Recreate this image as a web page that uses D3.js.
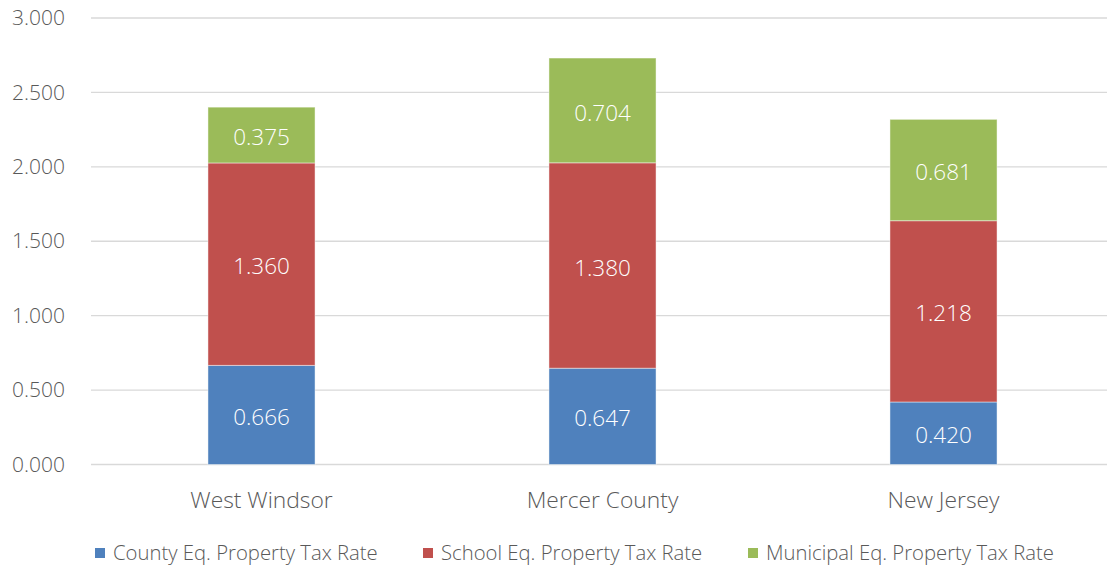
<!DOCTYPE html>
<html>
<head>
<meta charset="utf-8">
<script src="https://cdn.jsdelivr.net/npm/d3@7"></script>
<style>
  body { margin: 0; background: #fff; }
  svg text { font-family: "Segoe UI", "Open Sans", sans-serif; font-weight: 300; }
</style>
</head>
<body>
<svg id="chart" width="1107" height="569"></svg>
<script>
const categories = ["West Windsor", "Mercer County", "New Jersey"];
const seriesNames = ["County Eq. Property Tax Rate", "School Eq. Property Tax Rate", "Municipal Eq. Property Tax Rate"];
const countyRate = [0.666, 0.647, 0.420];
const schoolRate = [1.360, 1.380, 1.218];
const municipalRate = [0.375, 0.704, 0.681];
const yTicks = [0, 0.5, 1, 1.5, 2, 2.5, 3];

const colors = ["#4F81BD", "#C0504D", "#9BBB59"];
const margin = {top: 18, left: 91, bottom: 104.5};
const width = 1107, height = 569;
const plotRight = 1114;

const rows = categories.map((c, i) => ({
    cat: c,
    county: countyRate[i],
    school: schoolRate[i],
    municipal: municipalRate[i]
}));
const keys = ["county", "school", "municipal"];
const stacked = d3.stack().keys(keys)(rows);

const svg = d3.select("#chart");

const x = d3.scaleBand()
    .domain(categories)
    .range([margin.left, plotRight])
    .paddingInner(0.686)
    .paddingOuter(0.343);

const y = d3.scaleLinear()
    .domain([0, 3])
    .range([height - margin.bottom, margin.top]);

// gridlines
svg.append("g")
    .selectAll("line")
    .data(yTicks)
    .join("line")
        .attr("x1", margin.left)
        .attr("x2", plotRight)
        .attr("y1", d => y(d))
        .attr("y2", d => y(d))
        .attr("stroke", "#D9D9D9")
        .attr("stroke-width", 1.3);

// y axis labels
const yAxis = d3.axisLeft(y).tickValues(yTicks).tickFormat(d3.format(".3f")).tickSize(0).tickPadding(26);
svg.append("g")
    .attr("transform", `translate(${margin.left},0)`)
    .call(yAxis)
    .call(g => g.select(".domain").remove())
    .call(g => g.selectAll("text")
        .attr("fill", "#595959")
        .style("font-size", "21px")
        .style("font-family", "'Segoe UI', 'Open Sans', sans-serif"));

// bars
const layers = svg.append("g")
    .selectAll("g")
    .data(stacked)
    .join("g")
        .attr("fill", (d, i) => colors[i]);

layers.selectAll("rect")
    .data(d => d)
    .join("rect")
        .attr("x", d => x(d.data.cat))
        .attr("y", d => y(d[1]))
        .attr("width", x.bandwidth())
        .attr("height", d => y(d[0]) - y(d[1]))
        .attr("stroke", "rgba(255,255,255,0.45)")
        .attr("stroke-width", 1);

// value labels
layers.selectAll("text")
    .data(d => d.map(v => ({v, key: d.key})))
    .join("text")
        .attr("x", d => x(d.v.data.cat) + x.bandwidth() / 2)
        .attr("y", d => (y(d.v[0]) + y(d.v[1])) / 2)
        .attr("dy", "0.45em")
        .attr("text-anchor", "middle")
        .attr("fill", "#fff")
        .style("font-size", "22.5px")
        .text(d => d3.format(".3f")(d.v.data[d.key]));

// x axis labels
svg.append("g")
    .selectAll("text")
    .data(categories)
    .join("text")
        .attr("x", d => x(d) + x.bandwidth() / 2)
        .attr("y", 500)
        .attr("dy", "0.35em")
        .attr("text-anchor", "middle")
        .attr("fill", "#595959")
        .style("font-size", "22.8px")
        .text(d => d);

// legend
const legendX = [95, 423, 748];
const legend = svg.append("g")
    .selectAll("g")
    .data(seriesNames)
    .join("g")
        .attr("transform", (d, i) => `translate(${legendX[i]}, 553)`);

legend.append("rect")
    .attr("x", 0)
    .attr("y", -5)
    .attr("width", 10)
    .attr("height", 10)
    .attr("fill", (d, i) => colors[i]);

legend.append("text")
    .attr("x", 18)
    .attr("y", 0)
    .attr("dy", "0.35em")
    .attr("fill", "#595959")
    .style("font-size", "20.3px")
    .text(d => d);
</script>
</body>
</html>
